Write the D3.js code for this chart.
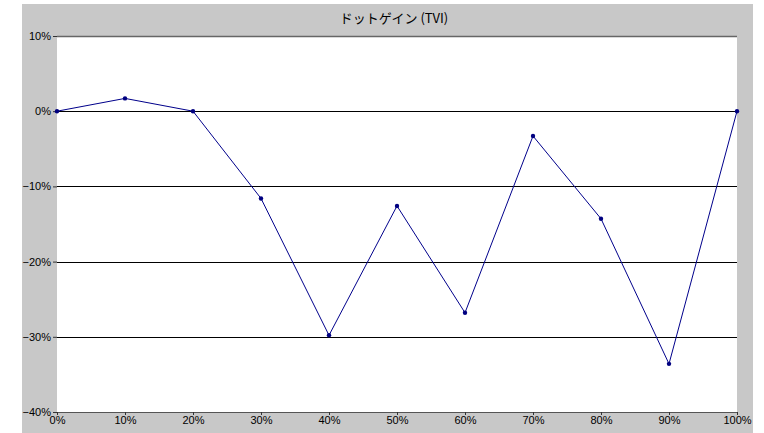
<!DOCTYPE html>
<html><head><meta charset="utf-8">
<script src="https://cdn.jsdelivr.net/npm/d3@7"></script>
<style>body{margin:0;background:#fff;}svg{display:block;}</style>
</head><body>
<script>
const title = "ドットゲイン (TVI)";
const xValues = [0, 10, 20, 30, 40, 50, 60, 70, 80, 90, 100];
const yValues = [0, 1.7, 0, -11.6, -29.8, -12.6, -26.8, -3.3, -14.3, -33.6, 0];
const yTicks = [10, 0, -10, -20, -30, -40];
const xTicks = [0, 10, 20, 30, 40, 50, 60, 70, 80, 90, 100];

const W = 764, H = 433;
const svg = d3.select("body").append("svg").attr("width", W).attr("height", H);
svg.append("rect").attr("x", 22).attr("y", 4).attr("width", 731).attr("height", 429).attr("fill", "#c8c8c8");

const L = 57, R = 737, T = 36, B = 412;
svg.append("rect").attr("x", L).attr("y", T).attr("width", R - L).attr("height", B - T).attr("fill", "#fff");

const x = d3.scaleLinear().domain([0, 100]).range([L, R]);
const y = d3.scaleLinear().domain([-40, 10]).range([B, T]);
const fmt = v => (v < 0 ? "\u2212" + Math.abs(v) : v) + "%";
const font = "'Liberation Sans', Arial, sans-serif";

// gridlines
svg.append("g").selectAll("line").data(yTicks.filter(v => v > -40)).join("line")
  .attr("x1", L).attr("x2", R)
  .attr("y1", d => Math.round(y(d)) + 0.5).attr("y2", d => Math.round(y(d)) + 0.5)
  .attr("stroke", d => d === 10 ? "#666" : "#000").attr("stroke-width", d => d === 10 ? 1.5 : 1);

// y axis
const ya = svg.append("g").attr("transform", `translate(${L},0)`)
  .call(d3.axisLeft(y).tickValues(yTicks).tickFormat(fmt).tickSize(4).tickPadding(2));
ya.select(".domain").remove();
ya.selectAll("line").attr("stroke", "#333");
ya.selectAll("text").attr("font-family", font).attr("font-size", 11).attr("fill", "#000");

// x axis
const xa = svg.append("g").attr("transform", `translate(0,${B})`)
  .call(d3.axisBottom(x).tickValues(xTicks).tickFormat(d => d + "%").tickSize(3).tickPadding(1));
xa.select(".domain").attr("stroke", "#555").attr("d", `M${L},0.5H${R}`);
xa.selectAll("line").attr("stroke", "#333");
xa.selectAll("text").attr("font-family", font).attr("font-size", 11).attr("fill", "#000");

// line
const pts = xValues.map((v, i) => [v, yValues[i]]);
svg.append("path").datum(pts)
  .attr("d", d3.line().x(d => x(d[0])).y(d => y(d[1])))
  .attr("fill", "none").attr("stroke", "#00008b").attr("stroke-width", 1);
svg.append("g").selectAll("circle").data(pts).join("circle")
  .attr("cx", d => x(d[0])).attr("cy", d => y(d[1])).attr("r", 2.2).attr("fill", "#000080");

svg.append("text").attr("x", 394).attr("y", 23).attr("text-anchor", "middle")
  .attr("font-family", "'Noto Sans CJK JP', sans-serif").attr("font-size", 13).attr("fill", "#000")
  .text(title);
</script>
</body></html>
